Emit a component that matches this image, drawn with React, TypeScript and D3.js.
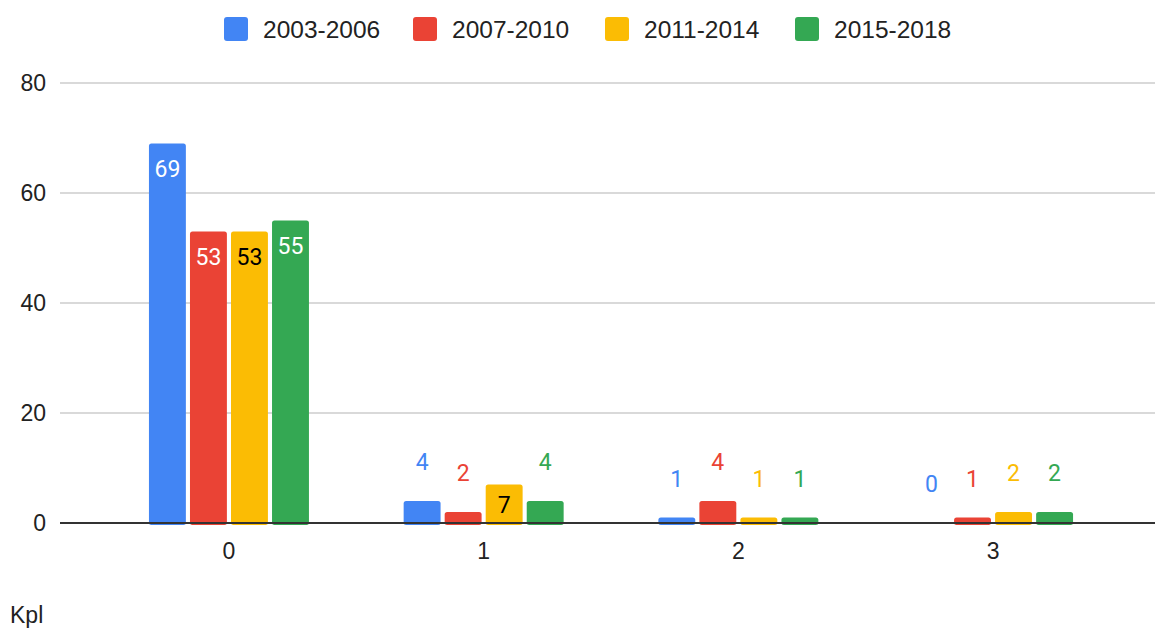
import React from "react";
import * as d3 from "d3";

const categories = ["0", "1", "2", "3"];
const seriesNames = ["2003-2006", "2007-2010", "2011-2014", "2015-2018"];
const s2003 = [69, 4, 1, 0];
const s2007 = [53, 2, 4, 1];
const s2011 = [53, 7, 1, 2];
const s2015 = [55, 4, 1, 2];
const seriesValues = [s2003, s2007, s2011, s2015];
const colors = ["#4285F4", "#EA4335", "#FBBC04", "#34A853"];
const insideText = ["#ffffff", "#ffffff", "#000000", "#ffffff"];
const yTicks = [0, 20, 40, 60, 80];
const xTitle = "Kpl";

const W = 1156;
const H = 628;
const FONT = "Roboto, 'Liberation Sans', Arial, sans-serif";
const AFONT = "'Liberation Sans', Arial, sans-serif";

export default function App() {
  const y = d3.scaleLinear().domain([0, 80]).range([523, 83]);
  const x = d3.scaleBand().domain(categories).range([101.6, 1120.4]).padding(0);
  const xs = d3.scaleBand().domain(seriesNames).range([0, 160]).paddingInner(0.1).paddingOuter(0);
  const gridLeft = 60;
  const gridRight = 1155;

  const legendX = [224, 413, 605, 795];

  return (
    <svg width={W} height={H} style={{ position: "absolute", left: 0, top: 0, background: "#fff" }}>
      <rect width={W} height={H} fill="#fff" />
      {/* legend */}
      {seriesNames.map((s, i) => (
        <g key={s}>
          <rect x={legendX[i]} y={17} width={24} height={24} rx={3} fill={colors[i]} />
          <text x={legendX[i] + 39} y={29} dy="0.35em" fontFamily={AFONT} fontSize={24.5} fill="#222">
            {s}
          </text>
        </g>
      ))}
      {/* grid */}
      {yTicks.map((t) => (
        <g key={t}>
          {t !== 0 && (
            <line x1={gridLeft} x2={gridRight} y1={y(t)} y2={y(t)} stroke="#cccccc" strokeWidth={1.5} />
          )}
          <text x={46} y={y(t)} dy="0.35em" textAnchor="end" fontFamily={AFONT} fontSize={23} fill="#222">
            {t}
          </text>
        </g>
      ))}
      {/* bars */}
      {categories.map((c, ci) => {
        const gx = (x(c) as number) + x.bandwidth() / 2 - 80;
        return (
          <g key={c}>
            {seriesNames.map((s, si) => {
              const v = seriesValues[si][ci];
              const bx = gx + (xs(s) as number);
              const bw = xs.bandwidth();
              const top = y(v);
              const h = y(0) - top;
              const inside = h > 30;
              const ly = inside ? Math.min(top + 25, (top + y(0)) / 2 + 1) : top - 39;
              return (
                <g key={s}>
                  {h > 0 && <rect x={bx} y={top} width={bw} height={h + 2} rx={2.5} fill={colors[si]} />}
                  <text
                    x={bx + bw / 2}
                    y={ly}
                    dy="0.35em"
                    textAnchor="middle"
                    fontFamily={FONT}
                    fontSize={23}
                    fill={inside ? insideText[si] : colors[si]}
                  >
                    {v}
                  </text>
                </g>
              );
            })}
            <text
              x={(x(c) as number) + x.bandwidth() / 2}
              y={551}
              dy="0.35em"
              textAnchor="middle"
              fontFamily={AFONT}
              fontSize={23}
              fill="#222"
            >
              {c}
            </text>
          </g>
        );
      })}
      <line x1={gridLeft} x2={gridRight} y1={y(0)} y2={y(0)} stroke="#333333" strokeWidth={2} />
      <text x={10} y={615} dy="0.35em" fontFamily={AFONT} fontSize={23} fill="#222">
        {xTitle}
      </text>
    </svg>
  );
}
